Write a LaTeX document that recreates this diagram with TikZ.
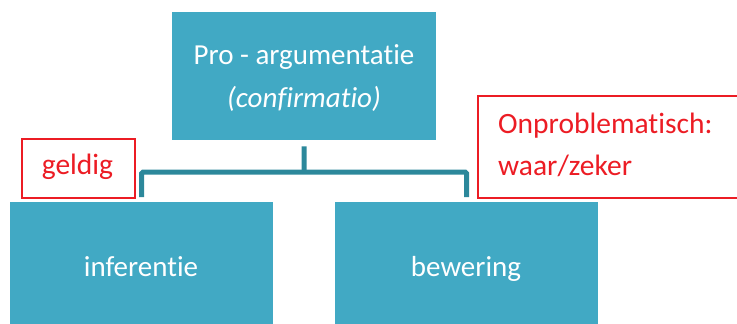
\documentclass[tikz,border=0pt]{standalone}
\usepackage{fontspec}
\setmainfont{Carlito}[Ligatures=NoCommon]
\definecolor{boxteal}{HTML}{41A9C4}
\definecolor{linkteal}{HTML}{2C889B}
\definecolor{notered}{HTML}{EC1C24}
\begin{document}
\begin{tikzpicture}[x=1pt,y=-1pt,
  tealbox/.style={rectangle, fill=boxteal, draw=none, inner sep=0pt, anchor=north west},
  notebox/.style={rectangle, draw=notered, line width=2pt, fill=none, inner sep=0pt, anchor=north west},
  whitetext/.style={text=white, inner sep=0pt, font=\fontsize{29}{35}\selectfont},
  redtext/.style={text=notered, inner sep=0pt, font=\fontsize{29.5}{35}\selectfont},
  link/.style={draw=linkteal, line width=5pt}]
\useasboundingbox (0,0) rectangle (737,324);
\clip (0,0) rectangle (737,324);

% boxes
\node[tealbox, minimum width=264pt, minimum height=128pt] (top) at (172,12) {};
\node[tealbox, minimum width=263pt, minimum height=122pt] (left) at (10,202) {};
\node[tealbox, minimum width=263pt, minimum height=122pt] (right) at (335,202) {};

% box texts
\node[whitetext, anchor=base] (toptitle) at (304,64) {Pro - argumentatie};
\node[whitetext, anchor=base] (topsub) at (304,107) {\itshape (confirmatio)};
\node[whitetext, anchor=base] (lefttext) at (141,276) {inferentie};
\node[whitetext, anchor=base] (righttext) at (466,276) {bewering};

% connectors
\coordinate (hub) at (304,172);
\draw[link] ([yshift=-6pt]top.south) -- (hub);
\draw[link, rounded corners=1.5pt] ([yshift=5pt]left.north) |- (hub) -| ([yshift=5pt]right.north);

% red notes
\node[notebox, minimum width=113pt, minimum height=59pt] (validnote) at (21,138) {};
\node[redtext, anchor=base] (validtext) at (77.5,174.5) {geldig};
\node[notebox, minimum width=280pt, minimum height=102pt] (claimnote) at (477,95) {};
\node[redtext, anchor=base west] (claimline1) at (498,133) {Onproblematisch:};
\node[redtext, anchor=base west] (claimline2) at (498,175) {waar/zeker};
\end{tikzpicture}
\end{document}
